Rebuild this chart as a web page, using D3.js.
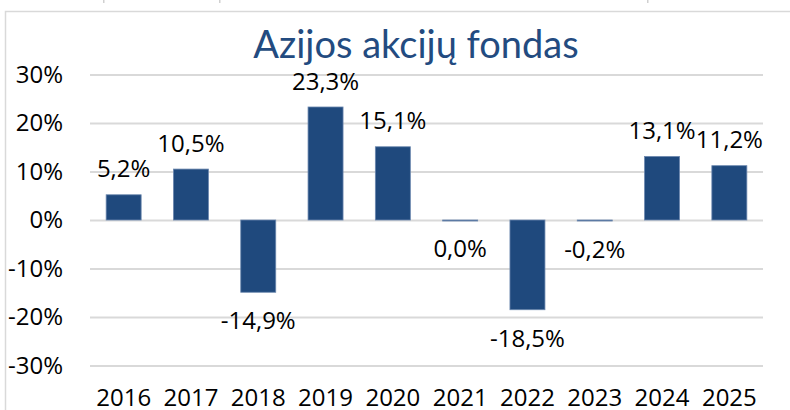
<!DOCTYPE html>
<html>
<head>
<meta charset="utf-8">
<script src="https://cdn.jsdelivr.net/npm/d3@7"></script>
<style>
  body { margin: 0; background: #fff; }
  svg { display: block; }
</style>
</head>
<body>
<div id="chart"></div>
<script>
// data
var years = ["2016", "2017", "2018", "2019", "2020", "2021", "2022", "2023", "2024", "2025"]
var returns = [5.2, 10.5, -14.9, 23.3, 15.1, 0.0, -18.5, -0.2, 13.1, 11.2]
var yTicks = [-30, -20, -10, 0, 10, 20, 30]
var title = "Azijos akcijų fondas"

function drawBars() {
  var dimensions = {
    width: 790,
    height: 410,
    margin: { top: 74.5, right: 27, bottom: 44.5, left: 90 }
  }
  dimensions.boundedWidth = dimensions.width - dimensions.margin.left - dimensions.margin.right
  dimensions.boundedHeight = dimensions.height - dimensions.margin.top - dimensions.margin.bottom

  // lithuanian style numbers: comma decimal, plain hyphen for minus
  var ltLocale = d3.formatLocale({ decimal: ",", thousands: " ", grouping: [3], currency: ["", " €"], minus: "-" })
  var formatPct = ltLocale.format(".1f")

  var svg = d3.select("#chart")
    .append("svg")
    .attr("width", dimensions.width)
    .attr("height", dimensions.height)

  // frame
  svg.append("path")
    .attr("d", "M5.5,420 V11.5 H800")
    .attr("fill", "none")
    .attr("stroke", "#d9d9d9")
    .attr("stroke-width", 1.5)

  // bits of the frame above, cut at the top edge
  svg.selectAll(".crumb")
    .data([103, 219, 647])
    .enter().append("rect")
    .attr("x", d => d)
    .attr("y", 0)
    .attr("width", 1.5)
    .attr("height", 3)
    .attr("fill", "#d0d0d0")

  svg.append("text")
    .attr("x", 416)
    .attr("y", 58)
    .attr("text-anchor", "middle")
    .style("font-family", "Lato, 'Open Sans', sans-serif")
    .style("font-size", "38px")
    .attr("fill", "#234b80")
    .text(title)

  var bounds = svg.append("g")
    .attr("transform", `translate(${dimensions.margin.left},${dimensions.margin.top})`)

  var xScale = d3.scaleBand()
    .domain(years)
    .range([0, dimensions.boundedWidth])
    .paddingInner(0.48)
    .paddingOuter(0.24)

  var yScale = d3.scaleLinear()
    .domain([-30, 30])
    .range([dimensions.boundedHeight, 0])

  var yAxisGenerator = d3.axisLeft(yScale)
    .tickValues(yTicks)
    .tickSize(-dimensions.boundedWidth)
    .tickPadding(27)
    .tickFormat(d => d + "%")

  var yAxis = bounds.append("g")
    .call(yAxisGenerator)
  yAxis.select(".domain").remove()
  yAxis.selectAll("line")
    .attr("stroke", "#d9d9d9")
    .attr("stroke-width", 2)
  yAxis.selectAll("text")
    .style("font-family", "'Open Sans', sans-serif")
    .style("font-size", "24px")
    .attr("fill", "#000")

  var xAxisGenerator = d3.axisBottom(xScale)
    .tickSize(0)
    .tickPadding(23)

  var xAxis = bounds.append("g")
    .attr("transform", `translate(0,${dimensions.boundedHeight})`)
    .call(xAxisGenerator)
  xAxis.select(".domain").remove()
  xAxis.selectAll("text")
    .style("font-family", "'Open Sans', sans-serif")
    .style("font-size", "24px")
    .attr("fill", "#000")

  var data = years.map((y, i) => ({ year: y, value: returns[i] }))

  bounds.selectAll(".bar")
    .data(data)
    .enter().append("rect")
    .attr("class", "bar")
    .attr("x", d => xScale(d.year))
    .attr("width", xScale.bandwidth())
    .attr("y", d => yScale(Math.max(0, d.value)))
    .attr("height", d => Math.max(1, Math.abs(yScale(d.value) - yScale(0))))
    .attr("fill", "#1f497d")
    .attr("stroke", "#6b87ae")
    .attr("stroke-width", 0.8)

  bounds.selectAll(".label")
    .data(data)
    .enter().append("text")
    .attr("class", "label")
    .attr("x", d => xScale(d.year) + xScale.bandwidth() / 2)
    .attr("y", d => d.value > 0 ? yScale(d.value) - 17.5 : yScale(d.value) + 37)
    .attr("text-anchor", "middle")
    .style("font-family", "'Open Sans', sans-serif")
    .style("font-size", "24px")
    .attr("fill", "#000")
    .text(d => formatPct(d.value) + "%")
}

drawBars()
</script>
</body>
</html>
